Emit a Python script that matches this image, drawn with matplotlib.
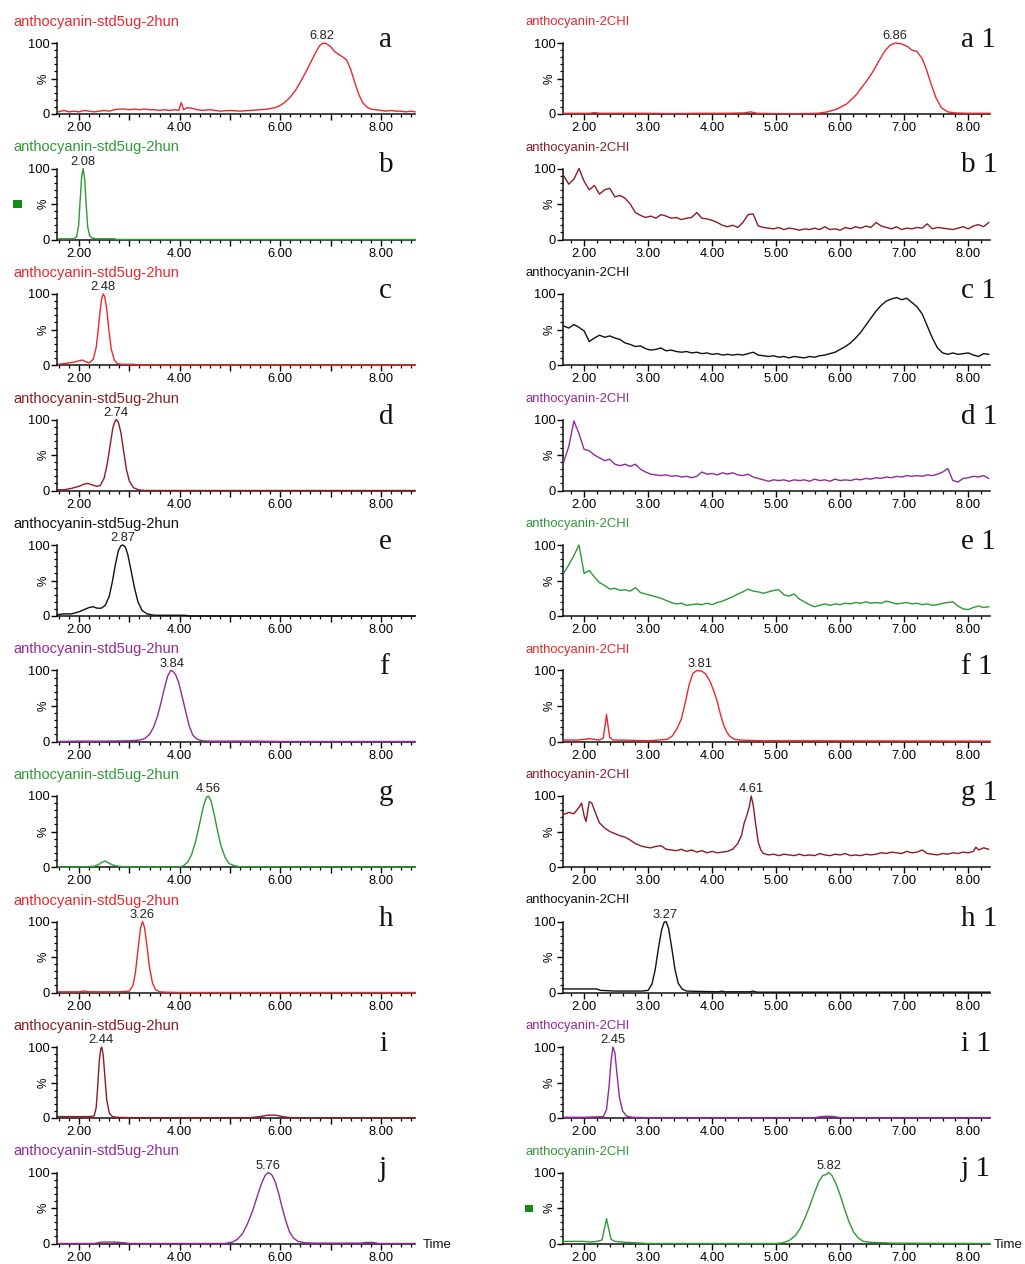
import matplotlib
matplotlib.use('Agg')
import matplotlib.pyplot as plt
from matplotlib.ticker import MultipleLocator, FixedLocator, FixedFormatter
from matplotlib.patches import Rectangle

plt.rcParams['font.family'] = ['Liberation Sans', 'DejaVu Sans']

# ---------------- data (retention time in min, relative intensity %) ----------------
# shared scan times for the noisy sample traces
t_scan = [1.68, 1.76, 1.84, 1.92, 2.00, 2.08, 2.16, 2.24, 2.32, 2.40,
          2.48, 2.56, 2.64, 2.72, 2.80, 2.88, 2.96, 3.04, 3.12, 3.20,
          3.28, 3.36, 3.44, 3.52, 3.60, 3.68, 3.76, 3.84, 3.92, 4.00,
          4.08, 4.16, 4.24, 4.32, 4.40, 4.48, 4.56, 4.64, 4.72, 4.80,
          4.88, 4.96, 5.04, 5.12, 5.20, 5.28, 5.36, 5.44, 5.52, 5.60,
          5.68, 5.76, 5.84, 5.92, 6.00, 6.08, 6.16, 6.24, 6.32, 6.40,
          6.48, 6.56, 6.64, 6.72, 6.80, 6.88, 6.96, 7.04, 7.12, 7.20,
          7.28, 7.36, 7.44, 7.52, 7.60, 7.68, 7.76, 7.84, 7.92, 8.00,
          8.08, 8.16, 8.24, 8.32]

# left column: anthocyanin standards
a_t = [1.58, 1.70, 1.80, 1.90, 2.00, 2.10, 2.20, 2.30, 2.40, 2.50,
       2.60, 2.70, 2.80, 2.90, 3.00, 3.10, 3.20, 3.30, 3.40, 3.50,
       3.60, 3.70, 3.80, 3.90, 3.98, 4.03, 4.08, 4.15, 4.25, 4.35,
       4.45, 4.60, 4.80, 5.00, 5.20, 5.40, 5.60, 5.75, 5.90, 6.00,
       6.10, 6.20, 6.30, 6.40, 6.50, 6.60, 6.70, 6.78, 6.85, 6.92,
       7.00, 7.08, 7.16, 7.25, 7.32, 7.40, 7.48, 7.56, 7.64, 7.72,
       7.80, 7.90, 8.00, 8.10, 8.20, 8.30, 8.40, 8.50, 8.60, 8.68]
a_y = [3, 5, 3, 4, 3, 5, 4, 3, 4, 5,
       4, 6, 7, 7, 6, 7, 6, 7, 6, 6,
       5, 6, 5, 6, 5, 16, 6, 9, 8, 6,
       5, 6, 4, 5, 4, 5, 6, 7, 9, 12,
       17, 24, 33, 45, 58, 72, 86, 96, 100, 99,
       95, 88, 84, 80, 76, 63, 45, 28, 16, 10,
       7, 6, 5, 4, 5, 4, 4, 3, 4, 3]

b_t = [1.58, 1.70, 1.80, 1.90, 1.95, 1.99, 2.02, 2.05, 2.08, 2.11,
       2.14, 2.17, 2.21, 2.26, 2.35, 2.50, 2.70, 2.75, 3.00, 8.68]
b_y = [1, 1, 1, 1, 4, 20, 55, 88, 100, 85,
       50, 18, 5, 2, 1, 1, 1, 0, 0, 0]

c_t = [1.58, 1.70, 1.80, 1.90, 2.00, 2.06, 2.12, 2.20, 2.28, 2.34,
       2.38, 2.42, 2.45, 2.48, 2.51, 2.55, 2.59, 2.64, 2.70, 2.76,
       2.85, 3.00, 3.10, 3.15, 8.68]
c_y = [1, 2, 3, 4, 6, 7, 5, 3, 8, 25,
       50, 78, 94, 100, 96, 78, 50, 22, 7, 2,
       1, 1, 1, 0, 0]

d_t = [1.58, 1.70, 1.85, 2.00, 2.10, 2.17, 2.25, 2.35, 2.42, 2.50,
       2.56, 2.62, 2.67, 2.71, 2.74, 2.78, 2.83, 2.88, 2.94, 3.00,
       3.08, 3.18, 3.30, 8.68]
d_y = [1, 1, 3, 6, 9, 10, 8, 6, 7, 18,
       38, 65, 88, 97, 100, 96, 82, 58, 30, 13,
       4, 1, 0, 0]

e_t = [1.58, 1.70, 1.85, 2.00, 2.10, 2.20, 2.28, 2.36, 2.44, 2.52,
       2.60, 2.66, 2.72, 2.78, 2.83, 2.87, 2.92, 2.97, 3.03, 3.10,
       3.17, 3.25, 3.35, 3.50, 3.70, 4.10, 4.20, 8.68]
e_y = [2, 3, 3, 6, 9, 12, 13, 11, 11, 15,
       28, 48, 72, 92, 99, 100, 97, 86, 65, 40,
       20, 8, 3, 1, 1, 1, 0, 0]

f_t = [1.58, 2.00, 2.50, 3.00, 3.20, 3.30, 3.40, 3.48, 3.56, 3.63,
       3.70, 3.76, 3.82, 3.86, 3.92, 3.98, 4.05, 4.12, 4.19, 4.26,
       4.35, 4.45, 4.60, 5.00, 5.50, 6.00, 8.68]
f_y = [0, 0.5, 0.5, 1, 2, 4, 10, 20, 36, 55,
       76, 92, 100, 99, 94, 83, 63, 42, 22, 9,
       3, 1, 0.5, 0.5, 0.5, 0, 0]

g_t = [1.58, 2.00, 2.30, 2.40, 2.46, 2.52, 2.58, 2.66, 2.78, 3.00,
       4.00, 4.08, 4.16, 4.24, 4.32, 4.40, 4.47, 4.53, 4.57, 4.62,
       4.68, 4.75, 4.82, 4.90, 4.98, 5.08, 5.18, 8.68]
g_y = [0, 0, 1, 4, 7, 8.5, 6, 3, 1, 0,
       0, 2, 7, 18, 37, 62, 85, 98, 100, 94,
       76, 52, 30, 14, 5, 2, 0.5, 0]

h_t = [1.58, 2.00, 2.10, 2.20, 2.80, 3.00, 3.07, 3.12, 3.17, 3.22,
       3.26, 3.30, 3.35, 3.40, 3.46, 3.52, 3.60, 3.70, 4.00, 8.68]
h_y = [1, 1, 2, 1, 1, 2, 10, 28, 60, 90,
       100, 92, 65, 35, 13, 4, 1, 0.5, 0, 0]

i_t = [1.58, 1.80, 2.00, 2.20, 2.30, 2.34, 2.37, 2.40, 2.43, 2.45,
       2.48, 2.51, 2.55, 2.60, 2.66, 2.75, 3.00, 5.40, 5.60, 5.75,
       5.90, 6.05, 6.20, 8.68]
i_y = [2, 2, 2, 2, 3, 15, 45, 80, 97, 100,
       88, 60, 25, 7, 2, 1, 0.5, 0.5, 2, 4,
       4, 2, 0.5, 0]

j_t = [1.58, 2.30, 2.45, 2.70, 2.90, 3.00, 4.90, 5.05, 5.15, 5.25,
       5.35, 5.45, 5.55, 5.63, 5.70, 5.76, 5.83, 5.90, 5.97, 6.04,
       6.11, 6.18, 6.26, 6.35, 6.50, 6.70, 7.60, 7.70, 7.85, 7.95, 8.68]
j_y = [0, 0, 2, 2, 1, 0, 0, 2, 6, 14,
       28, 46, 68, 85, 96, 100, 97, 87, 70, 50,
       32, 17, 8, 3, 1, 0.5, 0.5, 1.5, 1.5, 0, 0]

# right column: sample (anthocyanin-2CHI)
a1_t = [1.67, 1.90, 2.10, 2.15, 2.25, 2.60, 3.00, 3.40, 3.80, 4.20,
        4.50, 4.60, 4.70, 5.00, 5.40, 5.65, 5.80, 5.95, 6.10, 6.25,
        6.40, 6.50, 6.60, 6.70, 6.78, 6.86, 6.95, 7.05, 7.12, 7.20,
        7.28, 7.35, 7.42, 7.50, 7.58, 7.68, 7.80, 8.00, 8.34]
a1_y = [1, 1, 1, 2, 1, 1, 1, 0.5, 1, 1,
        1.5, 3, 1, 0.5, 0.5, 1, 3, 7, 14, 27,
        45, 58, 74, 89, 97, 100, 99, 95, 90, 88,
        78, 62, 42, 22, 9, 3, 1.5, 1, 1]

b1_y = [90, 78, 85, 100, 82, 70, 76, 64, 70, 72,
        60, 62, 58, 50, 38, 34, 31, 33, 30, 35,
        33, 30, 31, 28, 30, 31, 38, 30, 29, 27,
        24, 20, 18, 20, 17, 24, 35, 36, 19, 17,
        16, 15, 17, 14, 16, 15, 13, 15, 14, 16,
        14, 18, 14, 15, 13, 17, 15, 18, 16, 19,
        17, 24, 19, 17, 15, 18, 14, 16, 15, 17,
        16, 22, 15, 17, 16, 15, 14, 16, 18, 15,
        19, 21, 18, 24]

c1_y = [55, 52, 57, 53, 48, 33, 38, 42, 39, 41,
        38, 36, 31, 29, 26, 27, 23, 21, 22, 24,
        20, 21, 19, 18, 19, 17, 18, 16, 17, 15,
        16, 14, 15, 14, 15, 14, 16, 18, 14, 13,
        12, 13, 11, 12, 10, 12, 11, 10, 12, 11,
        13, 14, 16, 18, 22, 26, 31, 38, 46, 56,
        66, 76, 84, 90, 93, 95, 92, 94, 88, 82,
        72, 55, 38, 24, 17, 15, 17, 15, 16, 17,
        14, 12, 16, 15]

d1_y = [40, 62, 98, 80, 58, 56, 50, 46, 42, 44,
        37, 35, 37, 34, 37, 30, 26, 23, 22, 21,
        22, 20, 21, 19, 20, 18, 20, 26, 23, 24,
        22, 25, 23, 25, 22, 21, 23, 19, 17, 15,
        13, 15, 14, 15, 13, 15, 14, 15, 13, 16,
        14, 15, 13, 16, 14, 15, 14, 16, 15, 17,
        16, 18, 17, 19, 18, 20, 19, 21, 20, 21,
        20, 22, 21, 23, 26, 31, 14, 12, 17, 18,
        20, 19, 21, 17]

e1_y = [60, 72, 85, 100, 60, 64, 55, 47, 43, 38,
        39, 36, 37, 35, 40, 33, 31, 29, 27, 25,
        22, 19, 17, 18, 15, 16, 17, 16, 18, 16,
        19, 21, 24, 27, 31, 34, 38, 35, 34, 32,
        34, 36, 37, 30, 28, 31, 24, 20, 16, 13,
        15, 17, 15, 17, 16, 18, 17, 19, 18, 20,
        18, 19, 18, 21, 19, 17, 18, 19, 17, 18,
        16, 17, 15, 16, 18, 19, 20, 14, 10, 9,
        12, 14, 12, 13]

f1_t = [1.67, 1.90, 2.00, 2.08, 2.16, 2.24, 2.30, 2.33, 2.35, 2.37,
        2.40, 2.45, 2.60, 2.80, 3.00, 3.30, 3.38, 3.45, 3.52, 3.58,
        3.64, 3.70, 3.76, 3.84, 3.90, 3.97, 4.03, 4.08, 4.13, 4.18,
        4.23, 4.28, 4.35, 4.44, 4.80, 5.50, 8.34]
f1_y = [2, 2, 3, 4, 3, 2, 5, 25, 38, 24,
        6, 2, 2, 1.5, 1, 3, 8, 18, 32, 55,
        80, 96, 100, 99, 95, 84, 70, 56, 38, 23,
        13, 7, 3, 2, 1, 1, 0.5]

g1_t = [1.68, 1.76, 1.84, 1.92, 1.96, 2.00, 2.03, 2.08, 2.12, 2.16,
        2.24, 2.32, 2.40, 2.48, 2.56, 2.64, 2.72, 2.80, 2.88, 2.96,
        3.04, 3.12, 3.20, 3.28, 3.36, 3.44, 3.52, 3.60, 3.68, 3.76,
        3.84, 3.92, 4.00, 4.08, 4.16, 4.24, 4.32, 4.40, 4.46, 4.50,
        4.54, 4.58, 4.61, 4.64, 4.68, 4.72, 4.76, 4.80, 4.88, 4.96,
        5.04, 5.12, 5.20, 5.28, 5.36, 5.44, 5.52, 5.60, 5.68, 5.76,
        5.84, 5.92, 6.00, 6.08, 6.16, 6.24, 6.32, 6.40, 6.48, 6.56,
        6.64, 6.72, 6.80, 6.88, 6.96, 7.04, 7.12, 7.20, 7.28, 7.36,
        7.44, 7.52, 7.60, 7.68, 7.76, 7.84, 7.92, 8.00, 8.08, 8.12,
        8.16, 8.24, 8.32]
g1_y = [74, 77, 75, 84, 90, 72, 64, 92, 90, 80,
        62, 55, 50, 47, 44, 42, 38, 33, 30, 28,
        27, 29, 30, 25, 24, 23, 25, 22, 24, 21,
        23, 20, 22, 20, 21, 22, 25, 33, 45, 62,
        72, 85, 100, 88, 60, 35, 24, 19, 17, 18,
        16, 18, 17, 16, 18, 16, 17, 16, 19, 17,
        16, 18, 17, 19, 16, 17, 16, 18, 17, 18,
        20, 19, 21, 20, 19, 22, 20, 21, 24, 19,
        18, 17, 19, 18, 20, 19, 21, 20, 22, 28,
        24, 27, 25]

h1_t = [1.67, 2.00, 2.20, 2.25, 2.50, 2.90, 3.00, 3.06, 3.11, 3.16,
        3.21, 3.25, 3.28, 3.32, 3.37, 3.42, 3.47, 3.53, 3.60, 3.80,
        4.10, 4.15, 4.20, 4.60, 4.63, 4.70, 8.34]
h1_y = [5, 5, 5, 3, 2, 2, 3, 12, 32, 62,
        88, 99, 100, 90, 62, 32, 13, 5, 2, 1.5,
        1, 2, 1, 1, 2, 0.5, 0.5]

i1_t = [1.67, 2.00, 2.30, 2.35, 2.39, 2.42, 2.45, 2.48, 2.51, 2.55,
        2.60, 2.66, 2.75, 3.00, 5.60, 5.70, 5.80, 5.90, 6.00, 8.34]
i1_y = [1, 1, 2, 12, 45, 80, 100, 92, 65, 30,
        10, 3, 1, 0.5, 0.5, 2, 2.5, 2, 0.5, 0.5]

j1_t = [1.67, 2.00, 2.10, 2.20, 2.28, 2.32, 2.35, 2.38, 2.42, 2.48,
        2.60, 2.80, 3.00, 5.00, 5.10, 5.20, 5.30, 5.38, 5.45, 5.52,
        5.60, 5.67, 5.73, 5.78, 5.82, 5.87, 5.93, 6.00, 6.07, 6.14,
        6.21, 6.28, 6.36, 6.50, 6.70, 6.80, 8.34]
j1_y = [3, 3, 2, 3, 5, 22, 35, 22, 6, 3,
        2, 1, 0, 0, 1, 4, 11, 22, 36, 52,
        72, 88, 96, 97, 100, 96, 85, 68, 48, 30,
        16, 8, 3, 1.5, 1, 0.5, 0]

left_title = 'anthocyanin-std5ug-2hun'
right_title = 'anthocyanin-2CHI'
left_letters = ['a', 'b', 'c', 'd', 'e', 'f', 'g', 'h', 'i', 'j']
right_letters = ['a 1', 'b 1', 'c 1', 'd 1', 'e 1', 'f 1', 'g 1', 'h 1', 'i 1', 'j 1']
left_peaks = ['6.82', '2.08', '2.48', '2.74', '2.87', '3.84', '4.56', '3.26', '2.44', '5.76']
right_peaks = ['6.86', None, None, None, None, '3.81', '4.61', '3.27', '2.45', '5.82']

# ---------------- styling ----------------
RED = '#e8282d'
GREEN = '#2e9a35'
MAROON = '#8b1c26'
BLACK = '#111111'
PURPLE = '#922a9a'

left_traces = [(a_t, a_y), (b_t, b_y), (c_t, c_y), (d_t, d_y), (e_t, e_y),
               (f_t, f_y), (g_t, g_y), (h_t, h_y), (i_t, i_y), (j_t, j_y)]
right_traces = [(a1_t, a1_y), (t_scan, b1_y), (t_scan, c1_y), (t_scan, d1_y), (t_scan, e1_y),
                (f1_t, f1_y), (g1_t, g1_y), (h1_t, h1_y), (i1_t, i1_y), (j1_t, j1_y)]
left_colors = [RED, GREEN, RED, MAROON, BLACK, PURPLE, GREEN, RED, MAROON, PURPLE]
right_colors = [RED, MAROON, BLACK, PURPLE, GREEN, RED, MAROON, BLACK, PURPLE, GREEN]

W, H = 1025, 1264
fig = plt.figure(figsize=(W / 100, H / 100), dpi=100)


def fx(x):
    return x / W


def fy(y):
    return 1 - y / H


BASE0, STEP, PH = 114.0, 125.5, 71.0
columns = [
    dict(x0=57, x1=415, xlim=(1.56, 8.68), label_every=2, traces=left_traces,
         colors=left_colors, title=left_title, tx=13, tsize=10.5, letters=left_letters,
         lx=379, peaks=left_peaks, time_x=423),
    dict(x0=563, x1=990, xlim=(1.67, 8.34), label_every=1, traces=right_traces,
         colors=right_colors, title=right_title, tx=525, tsize=9.4, letters=right_letters,
         lx=961, peaks=right_peaks, time_x=994),
]

for col in columns:
    for k in range(10):
        y0 = BASE0 + STEP * k
        ytop = y0 - PH
        ax = fig.add_axes([fx(col['x0']), fy(y0), fx(col['x1'] - col['x0']), PH / H])
        t, y = col['traces'][k]
        color = col['colors'][k]
        ax.plot(t, y, color=color, lw=1.0, clip_on=False, zorder=3)
        ax.set_xlim(*col['xlim'])
        ax.set_ylim(0, 100)
        for s in ('top', 'right'):
            ax.spines[s].set_visible(False)
        for s in ('left', 'bottom'):
            ax.spines[s].set_linewidth(1.1)
            ax.spines[s].set_color('#111111')
        # x ticks
        majors = [2, 3, 4, 5, 6, 7, 8]
        ax.xaxis.set_major_locator(FixedLocator(majors))
        labs = ['%.2f' % m if (m % col['label_every'] == 0) else '' for m in majors]
        ax.xaxis.set_major_formatter(FixedFormatter(labs))
        ax.xaxis.set_minor_locator(MultipleLocator(0.2))
        ax.tick_params(axis='x', which='major', length=4.5, width=1.0, pad=1.5,
                       labelsize=9.3, direction='out')
        ax.tick_params(axis='x', which='minor', length=2.5, width=0.9, direction='out')
        # y ticks
        ax.yaxis.set_major_locator(FixedLocator([0, 50, 100]))
        ax.yaxis.set_major_formatter(FixedFormatter(['0', '%', '100']))
        ax.yaxis.set_minor_locator(MultipleLocator(10))
        ax.tick_params(axis='y', which='major', length=4, width=1.0, pad=1,
                       labelsize=9.3, direction='out')
        ax.tick_params(axis='y', which='minor', length=2.2, width=0.9, direction='out')
        for lab in ax.get_yticklabels():
            if lab.get_text() == '%':
                lab.set_rotation(90)
                lab.set_fontsize(8.5)
                lab.set_va('center')
        # title
        fig.text(fx(col['tx']), fy(ytop - 21), col['title'], color=color,
                 fontsize=col['tsize'], ha='left', va='center')
        # peak label
        pk = col['peaks'][k]
        if pk is not None:
            ax.text(float(pk), 101, pk, ha='center', va='bottom', fontsize=9.3,
                    color='#222222', clip_on=False)
        # panel letter
        fig.text(fx(col['lx']), fy(ytop + 4), col['letters'][k], fontsize=21,
                 family='Liberation Serif', ha='left', va='baseline', color='#111111')
        if k == 9:
            fig.text(fx(col['time_x']), fy(y0 + 2), 'Time', fontsize=9.5,
                     ha='left', va='center', color='#111111')

# small green function markers
fig.add_artist(Rectangle((fx(13), fy(208)), fx(9), 8 / H, transform=fig.transFigure,
                         facecolor='#138a1a', edgecolor='none'))
fig.add_artist(Rectangle((fx(525), fy(1212)), fx(8), 7 / H, transform=fig.transFigure,
                         facecolor='#138a1a', edgecolor='none'))

fig.savefig('out.png', dpi=100, facecolor='white')
